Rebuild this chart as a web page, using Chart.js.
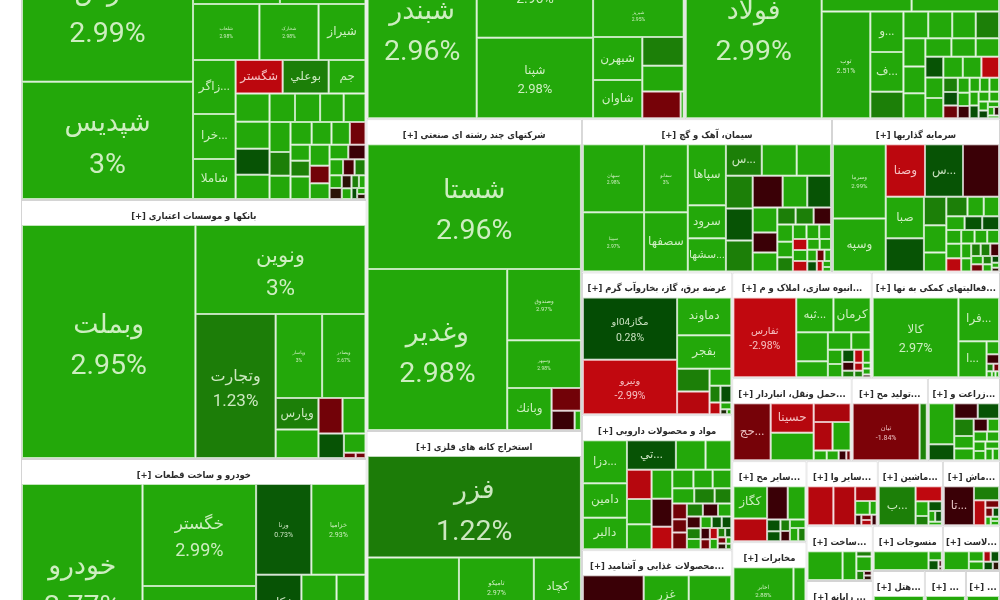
<!DOCTYPE html>
<html>
<head>
<meta charset="utf-8">
<script src="https://cdn.jsdelivr.net/npm/chart.js@4"></script>
<style>
  html, body { margin: 0; padding: 0; background: #fff; }
  canvas { display: block; }
</style>
</head>
<body>
<canvas id="map" width="1000" height="600"></canvas>
<script>
const chemNames = ['فارس','شپدیس','نوری','پارس','شلعاب','شخارک','شيراز','زاگر...','خرا...','شاملا','شگستر','بوعلي','جم'];
const chemValues = [23800,19300,5600,5515,3575,3190,2530,2214,1845,1640,1518,1485,1188,920,880,850,790,700,690,650,600,600,480,470,460,430,400,340,300,290,420,400,330,300,260,240,210,180,170,150,130,120,100,90,80,60,50,40];
const chemChanges = [2.99,3,2.98,2.98,2.98,2.98,2.98,2.98,2.98,2.98,-2.9,1.3,2.98,2.98,2.98,0.5,2.98,2.98,2.98,2.98,2.98,2.98,1.3,2.98,2.98,2.98,2.98,-1.6,2.98,1.4,2.98,2.98,-1.6,2.98,2.98,-0.3,2.98,-0.6,1.3,2.98,-0.2,-0.2,2.98,1.3,2.98,0.4,2.98,-0.2];

const bankNames = ['وبملت','ونوین','وتجارت','وپاسار','وبصادر','وپارس'];
const bankValues = [39000,14600,11154,3760,3520,1302,1180,828,792,600,400,60,50];
const bankChanges = [2.95,3,1.23,3,2.67,1.3,2.98,-1.6,2.98,0.5,2.98,-1.6,-1.6];

const autoNames = ['خودرو','خگستر','خساپا','ورنا','خزامیا','خکاوه'];
const autoValues = [23000,11220,10450,4860,4770,2460,2200,1700,1400,1200,1000,800,500];
const autoChanges = [2.77,2.99,2.98,0.73,2.93,0.5,-2.9,2.98,2.98,2.98,1.3,2.98,2.98];

const oilNames = ['شبندر','شتران','شپنا','شراز','شبریز','شبهرن','شاوان'];
const oilValues = [19260,11400,9120,4968,3864,2064,1824,1160,1040,999,80];
const oilChanges = [2.96,2.96,2.98,2.98,2.95,2.98,2.98,1.3,2.98,-1.7,2.98];

const steelNames = ['فولاد','فخوز','فملی','توب','و...','ف...'];
const steelValues = [23892,6500,6316,5029,1300,1280,850,640,620,610,600,600,570,530,470,440,420,360,360,350,400,380,360,200,190,180,170,150,140,140,130,130,120,110,100,90,80,70,60,50,40,30];
const steelChanges = [2.99,2.98,2.98,2.51,2.98,2.98,1.3,2.98,2.98,2.98,1.3,2.98,2.98,2.98,2.98,2.98,2.98,0.5,2.98,2.98,2.98,2.98,-2.9,1.3,0.4,-1.5,2.98,2.98,-0.3,2.98,2.98,2.98,2.98,0.4,2.98,2.98,2.98,0.2,2.98,2.98,-0.2,2.98];

const multiNames = ['شستا','وغدیر','وصندوق','وسپهر','وبانك'];
const multiValues = [26288,22194,5180,3478,1848,660,440,120];
const multiChanges = [2.96,2.98,2.97,2.98,2.98,-1.6,-0.3,2.98];

const mineNames = ['فزر','کگل','تامیکو','کچاد'];
const mineValues = [21300,11100,4368,2744,2900,2500,2300];
const mineChanges = [1.22,2.98,2.97,2.98,2.98,2.98,2.98];

const cementNames = ['سبهان','سپیتا','سفانو','سصفها','سپاها','سرود','سشها...','س...'];
const cementValues = [4020,3480,2881,2494,2242,1216,1216,1090,1060,1040,850,826,800,920,755,730,590,472,450,300,295,283,260,236,212,190,177,165,153,153,142,130,118,106,94,83,71,59,47,35];
const cementChanges = [2.98,2.97,3,2.98,2.98,2.98,2.98,1.3,2.98,2.98,1.3,0.5,1.3,-0.3,2.98,0.5,2.98,-0.3,2.98,1.3,1.3,-0.3,2.98,2.98,1.3,2.98,2.98,2.98,-2.9,2.98,-2.9,2.98,2.98,2.98,0.4,-1.5,2.98,-2.9,2.98,2.98];

const investNames = ['وسرما','وسپه','وصنا','س...','','صبا'];
const investValues = [3723,2652,1960,1900,1800,1500,1200,600,580,400,390,300,280,240,230,220,195,205,185,170,160,150,140,125,115,115,105,90,80,70,60,45,35,25];
const investChanges = [2.99,2.98,-2.9,0.5,-0.3,2.98,0.5,1.3,2.98,2.98,1.3,2.98,2.98,2.98,0.5,0.4,2.98,2.98,-2.9,2.98,2.98,2.98,2.98,2.98,1.3,1.3,-0.5,2.98,-1.6,1.3,2.98,0.3,2.98,-0.2];

const powerNames = ['مگاز04او','ونیرو','دماوند','بفجر'];
const powerValues = [5500,4800,1925,1705,690,690,345,170,170,120,70,30,20];
const powerChanges = [0.28,-2.99,2.98,2.98,1.3,-2.8,2.98,1.3,0.4,-2.9,2.98,-0.1,2.98];

const pharmaNames = ['دزا...','دامین','دالبر','تي...'];
const pharmaValues = [1640,1320,1200,1254,759,660,627,540,530,520,504,400,340,310,300,290,270,220,200,170,210,180,170,150,140,130,120,110,100,95,90,80,75,70,60,50,45,40,30,25];
const pharmaChanges = [2.98,2.98,2.98,0.5,2.98,2.98,-2.8,2.98,2.98,2.98,-0.3,-2.9,2.98,2.98,2.98,2.98,1.3,1.3,-1.6,-1.5,-1.7,1.3,-0.3,2.98,-0.4,1.3,2.98,2.98,0.5,0.4,-0.3,-1.7,-2.8,2.98,1.3,0.5,-1.6,-0.2,2.98,1.3];

const foodNames = ['','غانیزان','غزر'];
const foodValues = [4600,1800,1800,1700,1900,1700,1300,830];
const foodChanges = [-0.3,2.98,2.98,2.98,2.98,2.98,1.3,2.98];

const buildNames = ['ثفارس','ثبه...','کرمان'];
const buildValues = [4424,1140,1140,812,448,360,300,180,170,130,90,70,100,90,60,50,40,40,20];
const buildChanges = [-2.98,2.98,2.98,2.98,2.98,2.98,2.98,2.98,2.98,0.4,-0.3,1.3,-2.9,2.98,-2.7,1.3,2.98,2.98,-0.2];

const supportNames = ['کالا','فرا...','ا...'];
const supportValues = [6480,1680,962,154,110,50,40,30,20,20];
const supportChanges = [2.97,2.98,2.98,2.98,-0.3,1.3,-1.6,2.98,2.98,2.98];

const transportNames = ['حج...','حسینا'];
const transportValues = [1995,1189,1107,650,500,480,120,110,70,40];
const transportChanges = [-1.7,-2.8,2.98,-2.6,-2.7,2.98,2.98,2.98,-0.3,-1.6];

const makeNames = ['تیان'];
const makeValues = [3705,399];
const makeChanges = [-1.84,1.4];

const farmNames = [];
const farmValues = [861,336,300,270,280,200,190,150,120,110,100,90,90,80,70,60];
const farmChanges = [2.98,0.5,-0.3,0.5,1.3,2.98,2.98,-0.3,2.98,2.98,2.98,2.98,2.98,2.98,2.98,2.98];

const otherMineNames = ['کگاز'];
const otherMineValues = [900,630,567,486,130,110,90,80,110,90,80];
const otherMineChanges = [2.98,-2.8,-0.3,2.98,0.4,0.5,1.3,-0.3,2.98,2.98,1.3];

const telecomNames = ['اخابر'];
const telecomValues = [2880,576];
const telecomChanges = [2.88,2.98];

const hiddenValues = [2000,1500,1458];
const hiddenChanges = [2.98,2.98,2.98];

const otherNames = [];
const otherValues = [950,800,300,190,90,60,50,50,50];
const otherChanges = [-2.8,-2.7,-2.6,2.98,2.98,-0.3,-1.6,-2.7,-0.3];

const machineNames = ['ب...'];
const machineValues = [1221,338,160,100,110,60,60,40];
const machineChanges = [1.3,-2.95,2.98,1.3,0.5,2.98,0.5,2.98];

const tradeNames = ['تا...'];
const tradeValues = [1036,312,250,90,60,50,40,30,30];
const tradeChanges = [-0.3,1.3,-2.8,-1.7,-1.6,0.4,2.98,2.98,2.98];

const buildSmallValues = [868,340,70,190,60,30,30];
const buildSmallChanges = [2.98,2.98,1.3,2.98,1.3,-0.3,-0.2];

const textileValues = [950,110,90,20,10];
const textileChanges = [2.98,2.98,0.5,-0.3,-0.2];

const rubberValues = [374,120,100,60,70,60,40];
const rubberChanges = [2.98,2.98,2.98,-2.6,0.4,0.4,-0.2];

const computerValues = [2500,1700,1200,800,466];
const computerChanges = [2.98,2.98,2.98,1.3,2.98];

const hotelValues = [1500,900,850,500,300,200];
const hotelChanges = [2.98,-1.6,-2.8,2.98,2.98,1.3];

const leftoverAValues = [1400,1000,900,800];
const leftoverAChanges = [2.98,-0.3,0.5,0.5];

const leftoverBValues = [1400,1000,800];
const leftoverBChanges = [2.98,2.98,2.98];

const sectorNames = ['','بانکها و موسسات اعتباری','خودرو و ساخت قطعات','','','شرکتهای چند رشته ای صنعتی','استخراج کانه های فلزی','سیمان، آهک و گچ','سرمایه گذاریها','عرضه برق، گاز، بخاروآب گرم','مواد و محصولات دارویی','محصولات غذایی و آشامید...','انبوه سازی، املاک و م...','فعالیتهای کمکی به نها...','حمل ونقل، انباردار...','تولید مح...','زراعت و...','سایر مح...','مخابرات','','سایر وا...','ماشین...','ماش...','ساخت...','رایانه ...','منسوجات','لاست...','هتل...','...','...'];
const sectorValues = [99360,89355,76935,65826,65205,67080,53965,38250,25704,21450,20250,19800,14734,13568,9877,6308,5976,5994,5402,4958,4615,4225,3705,3630,6666,3150,2565,5772,4551,3774];
const sectorCells = [
  [chemNames,chemValues,chemChanges],[bankNames,bankValues,bankChanges],[autoNames,autoValues,autoChanges],
  [oilNames,oilValues,oilChanges],[steelNames,steelValues,steelChanges],
  [multiNames,multiValues,multiChanges],[mineNames,mineValues,mineChanges],
  [cementNames,cementValues,cementChanges],[investNames,investValues,investChanges],
  [powerNames,powerValues,powerChanges],[pharmaNames,pharmaValues,pharmaChanges],[foodNames,foodValues,foodChanges],
  [buildNames,buildValues,buildChanges],[supportNames,supportValues,supportChanges],
  [transportNames,transportValues,transportChanges],[makeNames,makeValues,makeChanges],[farmNames,farmValues,farmChanges],
  [otherMineNames,otherMineValues,otherMineChanges],[telecomNames,telecomValues,telecomChanges],[[],hiddenValues,hiddenChanges],
  [otherNames,otherValues,otherChanges],[machineNames,machineValues,machineChanges],[tradeNames,tradeValues,tradeChanges],
  [[],buildSmallValues,buildSmallChanges],[[],computerValues,computerChanges],[[],textileValues,textileChanges],[[],rubberValues,rubberChanges],
  [[],hotelValues,hotelChanges],[[],leftoverAValues,leftoverAChanges],[[],leftoverBValues,leftoverBChanges]
];

// how sectors nest, split direction flips at each level
const sectorTree = [[0,1,2],[[3,4],[[5,6],[[7,8],[[9,10,11],[[12,13],[14,15,16],[[17,18,19],[[20,21,22],[[23,24],[[25,26],[27,28,29]]]]]]]]]]];

// label sizes for cells showing name and percent, anything else is name only
const labelPx = {'فارس':28.5,'شپدیس':28.5,'وبملت':28.5,'خودرو':28.5,'شبندر':28.5,'فولاد':28.5,'شستا':28.5,'وغدیر':28.5,'فزر':28.5,
  'ونوین':22.5,'خگستر':18,'وتجارت':17,'شتران':14,'شپنا':13,'کالا':12.5,'مگاز04او':10.5,'ونیرو':10.5,'ثفارس':10.5,
  'ورنا':7,'خزامیا':7,'تامیکو':7,'توب':7,'تیان':7,'اخابر':6,'شلعاب':5,'شخارک':5,'وپاسار':5,'وبصادر':5,'شبریز':5,
  'وصندوق':6,'وسپهر':5,'سبهان':5,'سپیتا':5,'سفانو':5,'وسرما':6};

const ROOT = { x0: 21, x1: 1000, y0: -88, y1: 682 };
const HEADER = 25;

function sumTree(node) {
  return Array.isArray(node) ? node.reduce((s, n) => s + sumTree(n), 0) : sectorValues[node];
}

function sliceTree(node, r, vertical, out) {
  if (!Array.isArray(node)) { out.push({ index: node, ...r }); return; }
  const total = sumTree(node);
  let pos = vertical ? r.y0 : r.x0;
  node.forEach(n => {
    const len = (vertical ? r.y1 - r.y0 : r.x1 - r.x0) * sumTree(n) / total;
    const sub = vertical ? { x0: r.x0, x1: r.x1, y0: pos, y1: pos + len } : { x0: pos, x1: pos + len, y0: r.y0, y1: r.y1 };
    sliceTree(n, sub, !vertical, out);
    pos += len;
  });
}

function worst(row, sum, side) {
  const big = Math.max(...row), small = Math.min(...row);
  return Math.max(side * side * big / (sum * sum), sum * sum / (side * side * small));
}

// plain squarify, the rows keep the order of the values
function squarify(values, r) {
  const total = values.reduce((a, b) => a + b, 0);
  const k = (r.x1 - r.x0) * (r.y1 - r.y0) / total;
  const areas = values.map(v => v * k);
  let { x0, x1, y0, y1 } = r;
  const rects = [];
  let i = 0;
  while (i < areas.length) {
    const w = x1 - x0, h = y1 - y0;
    const side = Math.min(w, h);
    const row = [areas[i]];
    let sum = areas[i], j = i + 1;
    while (j < areas.length && worst(row.concat(areas[j]), sum + areas[j], side) <= worst(row, sum, side)) {
      row.push(areas[j]); sum += areas[j]; j++;
    }
    const thick = sum / side;
    let pos = w >= h ? y0 : x0;
    row.forEach(a => {
      const len = a / thick;
      if (w >= h) { rects.push({ x0, x1: x0 + thick, y0: pos, y1: pos + len }); }
      else { rects.push({ x0: pos, x1: pos + len, y0, y1: y0 + thick }); }
      pos += len;
    });
    if (w >= h) x0 += thick; else y0 += thick;
    i = j;
  }
  return rects;
}

const sectorRects = [];
sliceTree(sectorTree, ROOT, false, sectorRects);

const cellRects = [];
sectorRects.forEach(s => {
  const [names, values, changes] = sectorCells[s.index];
  const body = { x0: s.x0 + 1, x1: s.x1 - 1, y0: s.y0 + HEADER, y1: s.y1 - 1 };
  squarify(values, body).forEach((r, i) => {
    cellRects.push({ ...r, name: names[i] || '', change: changes[i] });
  });
});

const stops = [[-3,[194,8,15]],[-1.84,[124,2,8]],[-0.3,[58,0,6]],[0,[10,58,5]],[0.28,[4,76,4]],[0.73,[10,90,6]],[1.23,[28,125,8]],[2.5,[34,165,10]],[3,[35,168,10]]];

function rgbFor(v) {
  if (v <= stops[0][0]) return stops[0][1];
  for (let i = 1; i < stops.length; i++) {
    if (v <= stops[i][0]) {
      const t = (v - stops[i-1][0]) / (stops[i][0] - stops[i-1][0]);
      return stops[i-1][1].map((c, n) => Math.round(c + (stops[i][1][n] - c) * t));
    }
  }
  return stops[stops.length-1][1];
}
const fill = v => `rgb(${rgbFor(v).join(',')})`;
const edge = v => `rgb(${rgbFor(v).map(c => Math.round(c + (255 - c) * 0.72)).join(',')})`;

// draws rectangles with the stock bar element, placed through the x and y scales
class TreemapController extends Chart.DatasetController {
  update(mode) {
    const meta = this._cachedMeta;
    this.updateElements(meta.data, 0, meta.data.length, mode);
  }
  updateElements(elements, start, count, mode) {
    const { xScale, yScale } = this._cachedMeta;
    const data = this.getDataset().data;
    for (let i = start; i < start + count; i++) {
      const d = data[i];
      const l = xScale.getPixelForValue(d.x0), r = xScale.getPixelForValue(d.x1);
      const t = yScale.getPixelForValue(d.y0), b = yScale.getPixelForValue(d.y1);
      this.updateElement(elements[i], i, {
        x: (l + r) / 2, y: t, base: b, width: r - l, height: b - t,
        horizontal: false, borderSkipped: {}, enableBorderRadius: false, inflateAmount: 0,
        options: this.resolveDataElementOptions(i, mode)
      }, mode);
    }
  }
}
TreemapController.id = 'treemap';
TreemapController.defaults = { datasetElementType: false, dataElementType: 'bar' };
Chart.register(TreemapController);

const labels = {
  id: 'labels',
  afterDatasetsDraw(chart) {
    const { ctx, scales: { x, y } } = chart;
    ctx.save();
    ctx.direction = 'ltr';
    ctx.textAlign = 'center';
    ctx.textBaseline = 'middle';
    sectorRects.forEach(s => {
      const name = sectorNames[s.index];
      if (!name) return;
      ctx.fillStyle = '#2b2b2b';
      ctx.font = 'bold 9.4px "DejaVu Sans Condensed", "DejaVu Sans"';
      ctx.fillText('[+] ' + name, x.getPixelForValue((s.x0 + s.x1) / 2), y.getPixelForValue(s.y0 + 16.5));
    });
    cellRects.forEach(c => {
      if (!c.name) return;
      const cx = x.getPixelForValue((c.x0 + c.x1) / 2), cy = y.getPixelForValue((c.y0 + c.y1) / 2);
      ctx.fillStyle = c.change < 0 ? 'rgba(255,225,225,0.85)' : 'rgba(235,250,225,0.85)';
      const px = labelPx[c.name];
      if (px) {
        ctx.font = `${px * 0.94}px Roboto, "DejaVu Sans"`;
        ctx.fillText(c.name, cx, cy - px * 0.55);
        ctx.font = `${px}px Roboto, "DejaVu Sans"`;
        ctx.fillText(c.change + '%', cx, cy + px * 0.9);
      } else {
        const w = x.getPixelForValue(c.x1) - x.getPixelForValue(c.x0);
        ctx.font = `${Math.min(12, 2 * w / c.name.length)}px Roboto, "DejaVu Sans"`;
        ctx.fillText(c.name, cx, cy);
      }
    });
    ctx.restore();
  }
};

new Chart(document.getElementById('map'), {
  type: 'treemap',
  data: {
    datasets: [
      {
        data: cellRects, parsing: false, order: 0, borderWidth: 1,
        backgroundColor: c => fill(c.raw.change),
        borderColor: c => edge(c.raw.change)
      },
      {
        data: sectorRects, parsing: false, order: 1, borderWidth: 1,
        backgroundColor: '#ffffff', borderColor: '#d4d4d4'
      }
    ]
  },
  plugins: [labels],
  options: {
    responsive: false,
    animation: false,
    events: [],
    layout: { padding: 0 },
    plugins: { legend: { display: false }, tooltip: { enabled: false } },
    scales: {
      x: { type: 'linear', min: 0, max: 1000, display: false },
      y: { type: 'linear', min: 0, max: 600, reverse: true, display: false }
    }
  }
});
</script>
</body>
</html>
